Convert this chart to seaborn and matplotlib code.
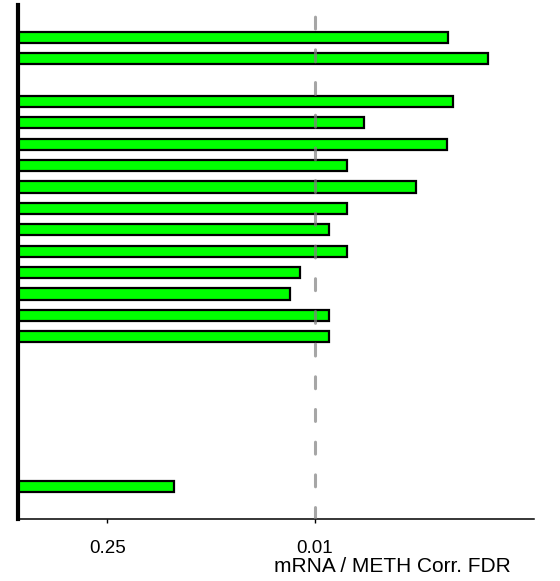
"""FDR bar chart for mRNA / METH correlation."""

import matplotlib
matplotlib.use("Agg")
import matplotlib.pyplot as plt
import numpy as np
import pandas as pd
import seaborn as sns

# -log10(FDR) per row, top to bottom; None = empty row
ROWS = [f"r{i}" for i in range(22)]
NEG_LOG_FDR = [2.90, 3.165, None, 2.93, 2.33, 2.895, 2.216, 2.684, 2.216,
               2.10, 2.219, 1.903, 1.836, 2.094, 2.097,
               None, None, None, None, None, None, 1.049]
TICK_FDR = [0.25, 0.01]
TICK_LABELS = ["0.25", "0.01"]
CUTOFF_FDR = 0.01

sns.set_theme(style="white")
plt.rcParams["font.family"] = ["Liberation Sans", "DejaVu Sans"]

df = pd.DataFrame({"row": ROWS, "value": NEG_LOG_FDR}).dropna()

fig = plt.figure(figsize=(5.6, 5.81), dpi=100)
ax = fig.add_axes([0.032, 0.1072, 0.922, 0.884])

sns.barplot(data=df, x="value", y="row", order=ROWS, orient="h",
            color="#00ff00", saturation=1, width=0.52,
            edgecolor="black", linewidth=1.6, ax=ax)

ax.axvline(-np.log10(CUTOFF_FDR), color="gray", alpha=0.7, lw=2.2,
           linestyle=(0, (3.9, 6.8)), dash_capstyle="round", zorder=5)

ax.set_xlim(0, 3.48)
ax.set_ylim(22.5, -1.5)
ax.set_yticks([])
ax.set_ylabel("")
ax.set_xticks(-np.log10(TICK_FDR))
ax.set_xticklabels(TICK_LABELS)
ax.tick_params(axis="x", bottom=True, length=3, width=1, pad=12.5,
               labelsize=13.5, color="black", labelcolor="black")

for side in ("top", "right"):
    ax.spines[side].set_visible(False)
ax.spines["left"].set_linewidth(3)
ax.spines["left"].set_color("black")
ax.spines["left"].set_zorder(6)
ax.spines["bottom"].set_linewidth(1.1)
ax.spines["bottom"].set_color("black")

ax.set_xlabel("mRNA / METH Corr. FDR", fontsize=15, color="black")
ax.xaxis.label.set_va("center")
ax.xaxis.set_label_coords(0.726, -0.094)

fig.savefig("out.png", dpi=100)
